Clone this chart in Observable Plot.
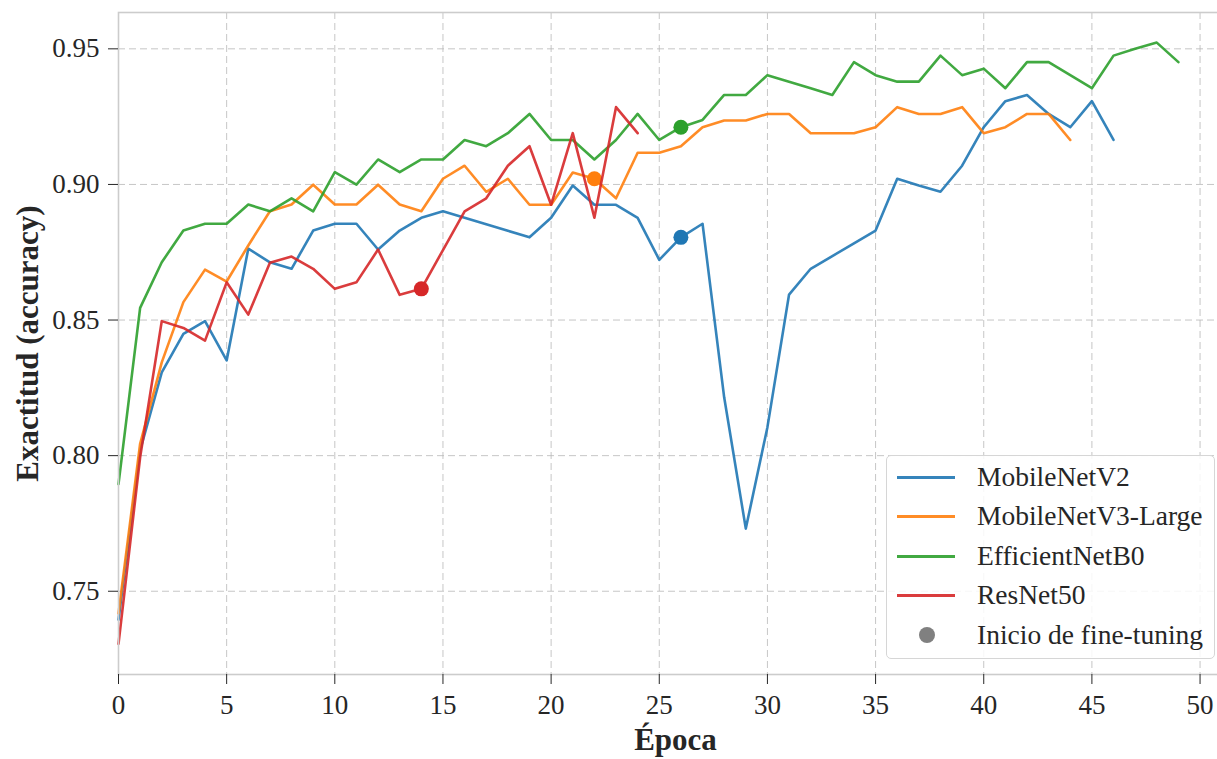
<!DOCTYPE html>
<html>
<head>
<meta charset="utf-8">
<script src="https://cdn.jsdelivr.net/npm/d3@7"></script>
<script src="https://cdn.jsdelivr.net/npm/@observablehq/plot@0.6"></script>
<style>
  html, body { margin: 0; padding: 0; background: #fff; overflow: hidden; }
  #wrap { position: relative; width: 1217px; height: 759px; overflow: hidden; }
  #chart svg { max-width: none !important; width: 1240px; height: 759px; display: block; }
  #legend {
    position: absolute; left: 886px; top: 455px; width: 329px; height: 204px;
    box-sizing: border-box; border: 1.3px solid #d6d6d6; border-radius: 5px;
    background: rgba(255,255,255,0.85);
    font-family: "Liberation Serif", "Times New Roman", serif; font-size: 27.5px; color: #262626;
  }
  .row { position: absolute; left: 0; height: 40px; width: 100%; }
  .sw { position: absolute; left: 10px; width: 58px; height: 3px; top: 19px; }
  .dot { position: absolute; left: 32px; top: 12px; width: 16px; height: 16px; border-radius: 50%; background: #808080; }
  .lab { position: absolute; left: 90px; top: 0; line-height: 40px; white-space: nowrap; }
</style>
</head>
<body>
<div id="wrap"><div id="chart"></div><div id="legend"></div></div>
<script>
// ---- data ----
const models = ["MobileNetV2", "MobileNetV3-Large", "EfficientNetB0", "ResNet50"];
const colors = ["#1f77b4", "#ff7f0e", "#2ca02c", "#d62728"];
const mobilenetV2 = [0.7395, 0.8019, 0.8307, 0.8449, 0.8496, 0.8351, 0.8763, 0.8713, 0.8689, 0.8830,
  0.8855, 0.8855, 0.8760, 0.8830, 0.8877, 0.8901, 0.8877, 0.8853, 0.8829, 0.8805,
  0.8877, 0.8996, 0.8925, 0.8925, 0.8877, 0.8722, 0.8805, 0.8855, 0.8215, 0.7731,
  0.8105, 0.8594, 0.8689, 0.8736, 0.8783, 0.8830, 0.9021, 0.8996, 0.8973, 0.9069,
  0.9211, 0.9307, 0.9330, 0.9260, 0.9211, 0.9307, 0.9164];
const mobilenetV3 = [0.7418, 0.8044, 0.8344, 0.8566, 0.8686, 0.8642, 0.8775, 0.8901, 0.8926, 0.8999,
  0.8926, 0.8926, 0.8999, 0.8926, 0.8901, 0.9021, 0.9069, 0.8973, 0.9021, 0.8925,
  0.8925, 0.9044, 0.9021, 0.8949, 0.9117, 0.9117, 0.9141, 0.9211, 0.9236, 0.9236,
  0.9260, 0.9260, 0.9189, 0.9189, 0.9189, 0.9211, 0.9285, 0.9260, 0.9260, 0.9285,
  0.9189, 0.9211, 0.9260, 0.9260, 0.9164];
const efficientnetB0 = [0.7895, 0.8545, 0.8713, 0.8830, 0.8855, 0.8855, 0.8926, 0.8901, 0.8949, 0.8901,
  0.9045, 0.8999, 0.9092, 0.9045, 0.9092, 0.9092, 0.9164, 0.9141, 0.9189, 0.9260,
  0.9164, 0.9164, 0.9092, 0.9164, 0.9260, 0.9164, 0.9211, 0.9238, 0.9330, 0.9330,
  0.9403, 0.9379, 0.9355, 0.9330, 0.9451, 0.9403, 0.9379, 0.9379, 0.9475, 0.9403,
  0.9427, 0.9355, 0.9451, 0.9451, 0.9403, 0.9355, 0.9475, 0.9500, 0.9523, 0.9451];
const resnet50 = [0.7306, 0.7994, 0.8496, 0.8471, 0.8424, 0.8639, 0.8520, 0.8711, 0.8734, 0.8689,
  0.8615, 0.8639, 0.8760, 0.8593, 0.8615, 0.8758, 0.8901, 0.8949, 0.9069, 0.9141,
  0.8925, 0.9189, 0.8877, 0.9285, 0.9189];
const fineTuneStart = [26, 22, 26, 14];
const xTicks = [0, 5, 10, 15, 20, 25, 30, 35, 40, 45, 50];
const yTicks = [0.75, 0.80, 0.85, 0.90, 0.95];
const xLabel = "Época";
const yLabel = "Exactitud (accuracy)";
const fineLabel = "Inicio de fine-tuning";

const series = [mobilenetV2, mobilenetV3, efficientnetB0, resnet50];
const rows = [];
series.forEach((vals, i) => vals.forEach((v, e) => rows.push({model: models[i], epoch: e, acc: v})));

const font = '"Liberation Serif", "Times New Roman", serif';
const marks = [
  Plot.gridY(yTicks, {stroke: "#b8b8b8", strokeOpacity: 0.8, strokeWidth: 1, strokeDasharray: "7,4"}),
  Plot.gridX(xTicks, {stroke: "#b8b8b8", strokeOpacity: 0.8, strokeWidth: 1, strokeDasharray: "7,4"}),
];
models.forEach((m, i) => {
  const d = rows.filter(r => r.model === m);
  marks.push(Plot.line(d, {x: "epoch", y: "acc", stroke: colors[i], strokeWidth: 2.6, strokeOpacity: 0.9}));
  marks.push(Plot.dot(d.filter(r => r.epoch === fineTuneStart[i]), {x: "epoch", y: "acc", r: 7.5, fill: colors[i], stroke: "none"}));
});
marks.push(
  Plot.frame({stroke: "#cccccc", strokeWidth: 1.6}),
  Plot.axisY(yTicks, {tickSize: 10, tickPadding: 9, tickFormat: d => d.toFixed(2), label: null, stroke: "#262626", fontSize: 27}),
  Plot.axisX(xTicks, {tickSize: 10, tickPadding: 10, tickFormat: d => String(d), label: null, stroke: "#262626", fontSize: 27}),
  Plot.text([yLabel], {frameAnchor: "left", dx: -90, rotate: -90, text: d => d, fontWeight: "bold", fontSize: 31, textAnchor: "middle", lineAnchor: "middle", fill: "#262626"}),
  Plot.text([xLabel], {frameAnchor: "bottom", dy: 66, text: d => d, fontWeight: "bold", fontSize: 31, textAnchor: "middle", lineAnchor: "middle", fill: "#262626"})
);

const chart = Plot.plot({
  width: 1240, height: 759,
  marginLeft: 118, marginRight: 8, marginTop: 12, marginBottom: 85,
  style: {fontFamily: font, fontSize: "27px", color: "#262626", background: "#fff", overflow: "visible", maxWidth: "none"},
  x: {domain: [0, 51.5]},
  y: {domain: [0.7193, 0.9634]},
  marks
});
document.getElementById("chart").appendChild(chart);

// legend
const lg = document.getElementById("legend");
const tops = [1, 40, 80, 119, 159];
models.forEach((m, i) => {
  const r = document.createElement("div"); r.className = "row"; r.style.top = tops[i] + "px";
  r.innerHTML = `<div class="sw" style="background:${colors[i]};opacity:0.9"></div><div class="lab">${m}</div>`;
  lg.appendChild(r);
});
const r5 = document.createElement("div"); r5.className = "row"; r5.style.top = tops[4] + "px";
r5.innerHTML = `<div class="dot"></div><div class="lab">${fineLabel}</div>`;
lg.appendChild(r5);
</script>
</body>
</html>
